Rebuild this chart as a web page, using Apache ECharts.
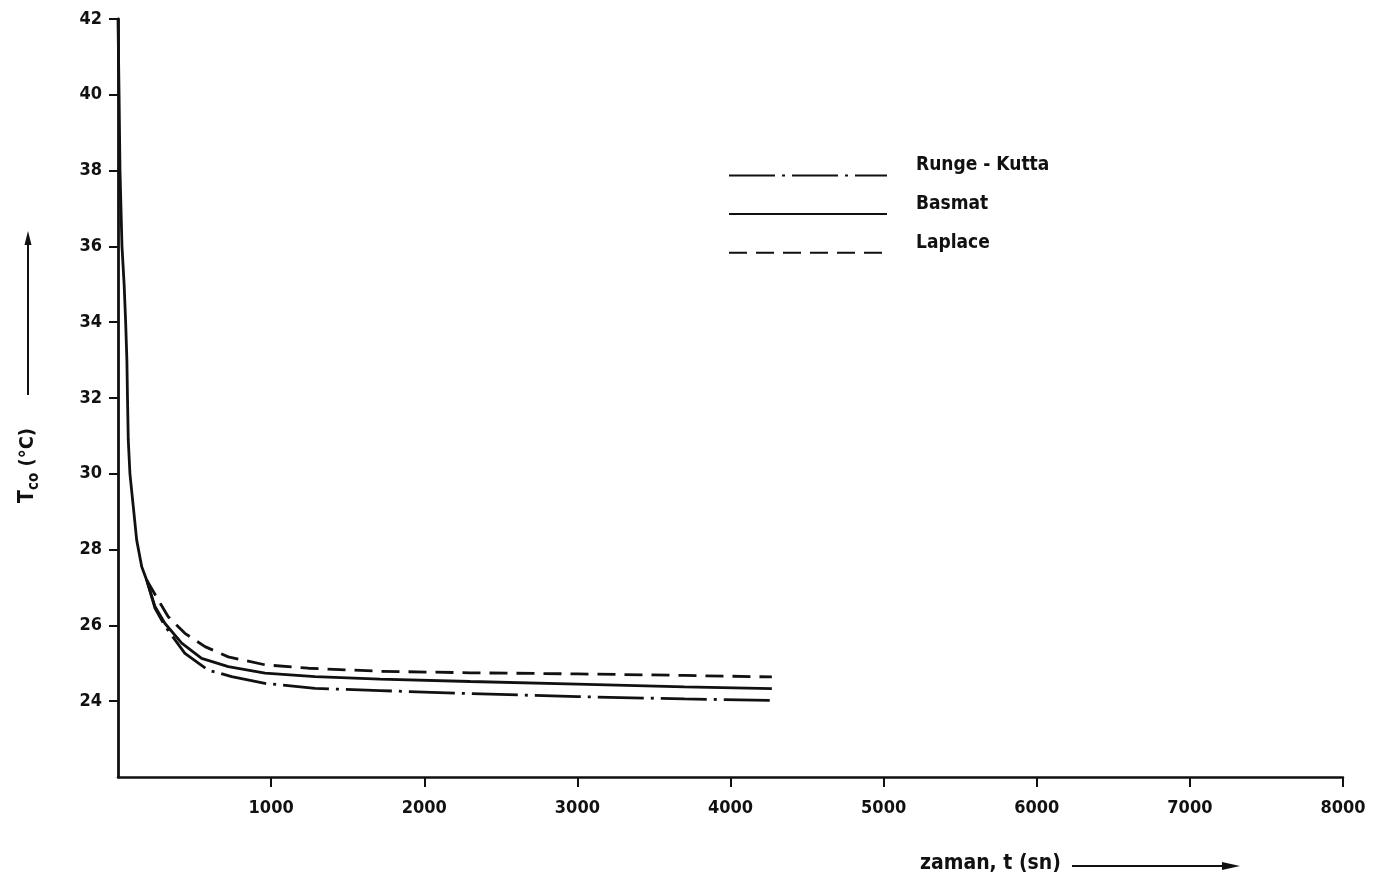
<!DOCTYPE html>
<html>
<head>
<meta charset="utf-8">
<script src="https://cdn.jsdelivr.net/npm/echarts@6/dist/echarts.min.js"></script>
<style>html,body{margin:0;padding:0;background:#fff}#c{width:1378px;height:886px}</style>
</head>
<body>
<div id="c"></div>
<script>
// x ticks (s) and y ticks (°C)
var xTicks = [1000, 2000, 3000, 4000, 5000, 6000, 7000, 8000];
var yTicks = [24, 26, 28, 30, 32, 34, 36, 38, 40, 42];

// Basmat (solid) — includes the shared steep start
var basmatT = [0, 7, 13, 26, 40, 50, 58, 62, 67, 78, 100, 122, 155, 187, 242, 307, 416, 546, 720, 960, 1287, 1711, 2300, 3000, 3700, 4270];
var basmatV = [42, 40, 38, 36, 35, 34, 33, 32, 30.9, 30, 29.13, 28.25, 27.55, 27.2, 26.49, 26.05, 25.53, 25.13, 24.91, 24.74, 24.65, 24.58, 24.52, 24.45, 24.38, 24.33];

// Runge-Kutta (dash-dot)
var rkT = [187, 242, 307, 437, 589, 742, 960, 1287, 1711, 2300, 3000, 3700, 4270];
var rkV = [27.2, 26.45, 25.98, 25.26, 24.82, 24.65, 24.47, 24.34, 24.28, 24.2, 24.12, 24.06, 24.02];

// Laplace (dashed)
var lapT = [187, 263, 328, 437, 568, 720, 960, 1243, 1711, 2300, 3000, 3700, 4270];
var lapV = [27.2, 26.67, 26.23, 25.79, 25.44, 25.17, 24.96, 24.87, 24.79, 24.75, 24.72, 24.68, 24.64];

var names = ['Runge - Kutta', 'Basmat', 'Laplace'];

function pairs(t, v) { return t.map(function (x, i) { return [x, v[i]]; }); }

var FONT = 'DejaVu Sans Condensed';
var chart = echarts.init(document.getElementById('c'), null, { renderer: 'canvas' });

chart.setOption({
  backgroundColor: '#fff',
  animation: false,
  textStyle: { fontFamily: FONT },
  grid: { left: 118, right: 35, top: 19, bottom: 109 },
  legend: {
    orient: 'vertical',
    left: 723,
    top: 151,
    itemWidth: 158,
    itemHeight: 14,
    itemGap: 13.5,
    data: names,
    itemStyle: { opacity: 0 },
    formatter: '{a|{name}}',
    textStyle: {
      fontFamily: FONT, fontSize: 19, fontWeight: 'bold', color: '#111',
      rich: { a: { fontFamily: FONT, fontSize: 19, fontWeight: 'bold', color: '#111', padding: [0, 0, 20, 24] } }
    }
  },
  xAxis: {
    type: 'value', min: 0, max: 8000, interval: 1000,
    axisLine: { lineStyle: { color: '#111', width: 2.5 } },
    axisTick: { show: true, length: 10, lineStyle: { color: '#111', width: 2 } },
    splitLine: { show: false },
    axisLabel: {
      margin: 22, fontFamily: FONT, fontSize: 18, fontWeight: 'bold', color: '#111',
      showMinLabel: false,
      formatter: function (v) { return xTicks.indexOf(v) >= 0 ? String(v) : ''; }
    }
  },
  yAxis: {
    type: 'value', min: 22, max: 42, interval: 2,
    axisLine: { show: true, lineStyle: { color: '#111', width: 2.8 } },
    axisTick: { show: true, length: 9, lineStyle: { color: '#111', width: 2 } },
    splitLine: { show: false },
    axisLabel: {
      margin: 16, fontFamily: FONT, fontSize: 18, fontWeight: 'bold', color: '#111',
      showMinLabel: false,
      formatter: function (v) { return yTicks.indexOf(v) >= 0 ? String(v) : ''; }
    }
  },
  series: [
    {
      name: names[0], type: 'line', data: pairs(rkT, rkV), showSymbol: false, symbol: 'none',
      smooth: false, z: 3,
      lineStyle: { color: '#111', width: 2.8, type: [46, 7, 3, 7] }, itemStyle: { color: '#111' }
    },
    {
      name: names[1], type: 'line', data: pairs(basmatT, basmatV), showSymbol: false, symbol: 'none',
      smooth: false, z: 4,
      lineStyle: { color: '#111', width: 2.8, type: 'solid' }, itemStyle: { color: '#111' }
    },
    {
      name: names[2], type: 'line', data: pairs(lapT, lapV), showSymbol: false, symbol: 'none',
      smooth: false, z: 3,
      lineStyle: { color: '#111', width: 2.8, type: [18, 9] }, itemStyle: { color: '#111' }
    }
  ],
  graphic: [
    {
      type: 'group', x: 28, y: 503, rotation: Math.PI / 2,
      children: [
        {
          type: 'text', x: 0, y: 0,
          style: {
            text: '{t|T}{s|co}{n| (°C)}',
            verticalAlign: 'middle', align: 'left',
            rich: {
              t: { fontFamily: FONT, fontSize: 21, fontWeight: 'bold', fill: '#111' },
              s: { fontFamily: FONT, fontSize: 15, fontWeight: 'bold', fill: '#111', padding: [12, 0, 0, 0] },
              n: { fontFamily: FONT, fontSize: 20, fontWeight: 'bold', fill: '#111' }
            }
          }
        },
        { type: 'line', shape: { x1: 108, y1: 0, x2: 268, y2: 0 }, style: { stroke: '#111', lineWidth: 2 } },
        { type: 'polygon', shape: { points: [[272, 0], [258, -3.5], [258, 3.5]] }, style: { fill: '#111' } }
      ]
    },
    {
      type: 'text', left: 920, top: 853,
      style: { text: 'zaman, t (sn)', fontFamily: FONT, fontSize: 21, fontWeight: 'bold', fill: '#111' }
    },
    { type: 'line', shape: { x1: 1072, y1: 866, x2: 1232, y2: 866 }, style: { stroke: '#111', lineWidth: 2 } },
    { type: 'polygon', shape: { points: [[1240, 866], [1222, 862], [1222, 870]] }, style: { fill: '#111' } }
  ]
});
</script>
</body>
</html>
